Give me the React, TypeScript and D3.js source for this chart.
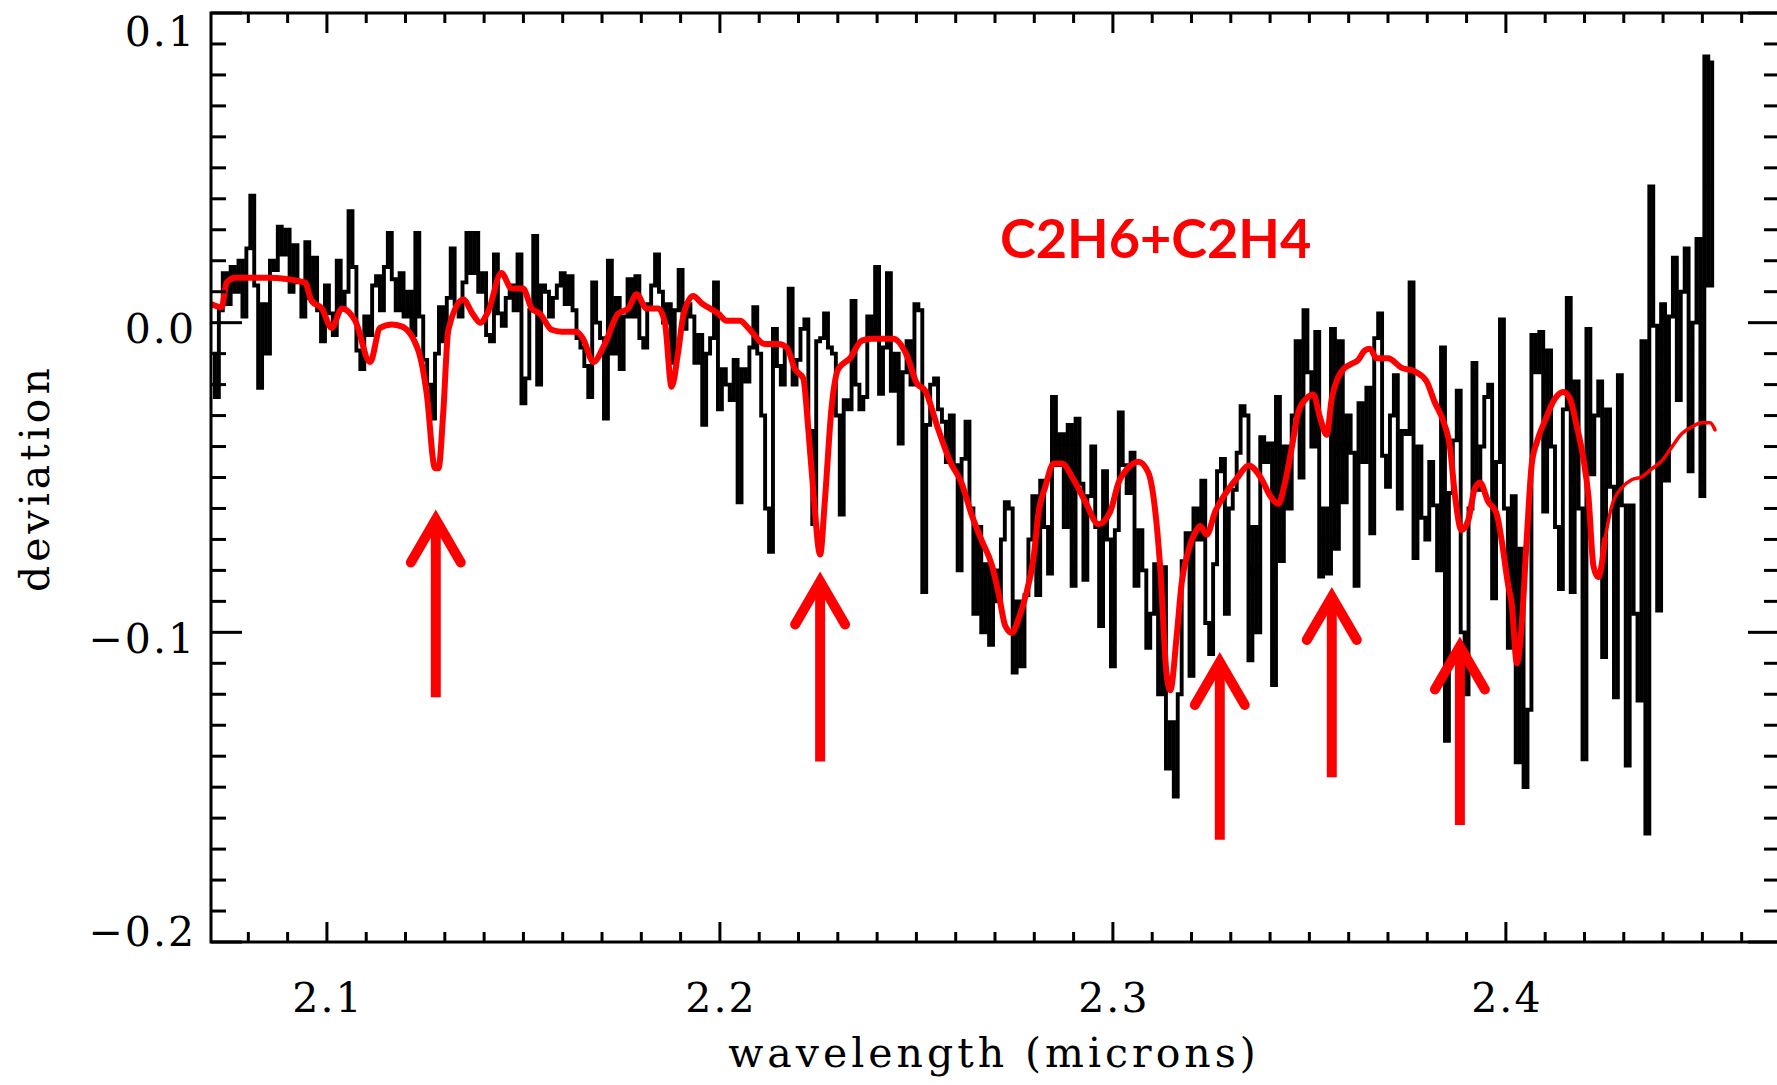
import React, { useEffect, useRef } from 'react';
import * as d3 from 'd3';

// observed spectrum, sampled every 0.001 micron starting at 2.071
const specStart = 2.071;
const specStep = 0.001;
const specDev = [
  -0.010, -0.024, 0.004, 0.016, 0.006, 0.018, 0.010, 0.020, 0.002, 0.024, // 2.071
  0.041, 0.012, -0.021, 0.006, -0.010, 0.020, 0.017, 0.031, 0.022, 0.030, // 2.081
  0.010, 0.025, 0.013, 0.002, 0.026, 0.008, 0.021, 0.004, -0.006, 0.012, // 2.091
  0.003, -0.004, 0.020, 0.005, 0.010, 0.036, 0.018, -0.009, -0.015, 0.002, // 2.101
  -0.004, 0.012, 0.015, 0.004, 0.018, 0.029, 0.014, 0.004, 0.016, 0.002, // 2.111
  0.010, -0.004, 0.029, 0.002, -0.012, -0.020, -0.031, -0.010, 0.005, -0.006, // 2.121
  0.008, 0.024, 0.006, 0.002, 0.013, 0.029, 0.016, 0.029, 0.010, 0.016, // 2.131
  -0.004, -0.006, 0.022, 0.003, -0.001, 0.008, 0.012, 0.004, 0.022, -0.026, // 2.141
  -0.018, 0.004, 0.028, -0.020, 0.012, 0.010, 0.002, 0.008, 0.012, 0.016, // 2.151
  0.006, 0.015, 0.004, -0.005, -0.008, -0.014, -0.024, 0.013, 0.000, -0.005, // 2.161
  -0.031, 0.020, -0.010, 0.008, -0.015, 0.002, 0.014, 0.002, 0.015, -0.005, // 2.171
  -0.008, 0.006, 0.012, 0.022, 0.010, 0.000, 0.006, -0.013, 0.004, 0.017, // 2.181
  -0.002, 0.006, 0.002, -0.013, -0.004, -0.033, -0.010, -0.005, 0.013, -0.028, // 2.191
  -0.015, -0.020, -0.025, -0.012, -0.058, -0.015, -0.019, -0.008, 0.005, -0.010, // 2.201
  -0.030, -0.060, -0.074, -0.002, -0.014, -0.020, -0.008, 0.011, -0.020, -0.012, // 2.211
  -0.002, 0.001, -0.035, -0.065, -0.006, -0.005, 0.003, -0.008, -0.010, -0.030, // 2.221
  -0.062, -0.025, -0.028, 0.007, -0.020, -0.028, -0.024, 0.002, -0.004, 0.018, // 2.231
  -0.023, -0.008, 0.016, -0.022, -0.010, -0.039, -0.016, -0.006, -0.020, 0.006, // 2.241
  0.004, -0.087, -0.033, -0.020, -0.018, -0.028, -0.032, -0.045, -0.030, -0.046, // 2.251
  -0.080, -0.044, -0.032, -0.060, -0.094, -0.066, -0.100, -0.078, -0.104, -0.080, // 2.261
  -0.090, -0.070, -0.058, -0.060, -0.113, -0.090, -0.111, -0.088, -0.070, -0.056, // 2.271
  -0.088, -0.051, -0.066, -0.081, -0.024, -0.046, -0.036, -0.066, -0.033, -0.085, // 2.281
  -0.031, -0.052, -0.083, -0.056, -0.040, -0.066, -0.098, -0.048, -0.070, -0.111, // 2.291
  -0.067, -0.029, -0.046, -0.055, -0.042, -0.085, -0.067, -0.080, -0.105, -0.094, // 2.301
  -0.078, -0.120, -0.079, -0.144, -0.129, -0.153, -0.120, -0.077, -0.068, -0.114, // 2.311
  -0.060, -0.070, -0.051, -0.097, -0.107, -0.078, -0.048, -0.044, -0.094, -0.060, // 2.321
  -0.054, -0.042, -0.027, -0.030, -0.109, -0.066, -0.100, -0.037, -0.045, -0.039, // 2.331
  -0.117, -0.024, -0.077, -0.040, -0.060, -0.030, -0.006, -0.050, 0.004, -0.016, // 2.341
  -0.040, -0.003, -0.082, -0.060, -0.081, -0.002, -0.073, -0.006, -0.058, -0.030, // 2.351
  -0.042, -0.085, -0.026, -0.045, -0.021, -0.068, -0.005, 0.003, -0.043, -0.053, // 2.361
  -0.030, -0.017, -0.060, -0.035, -0.036, 0.013, -0.076, -0.040, -0.063, -0.070, // 2.371
  -0.045, -0.059, -0.080, -0.008, -0.135, -0.055, -0.038, -0.022, -0.100, -0.120, // 2.381
  -0.060, -0.013, -0.054, -0.040, -0.024, -0.020, -0.089, -0.045, 0.001, -0.060, // 2.391
  -0.105, -0.056, -0.142, -0.073, -0.150, -0.125, -0.004, -0.016, -0.003, -0.061, // 2.401
  -0.009, -0.040, -0.066, -0.086, -0.028, 0.008, -0.087, -0.019, -0.060, -0.141, // 2.411
  -0.002, -0.049, -0.030, -0.019, -0.108, -0.028, -0.053, -0.121, -0.017, -0.059, // 2.421
  -0.143, -0.059, -0.094, -0.122, -0.006, -0.165, 0.044, -0.001, -0.093, 0.006, // 2.431
  -0.051, 0.002, 0.021, -0.025, 0.010, 0.024, -0.048, 0.000, 0.027, -0.056, // 2.441
  0.086, 0.012, 0.084, // 2.451
];

// C2H6+C2H4 model
const modelWave = [
  2.0705, 2.0732, 2.0745, 2.0766, 2.0850, 2.0944, 2.0961, 2.0987, 2.1012, 2.1038,
  2.1072, 2.1110, 2.1135, 2.1165, 2.1190, 2.1233, 2.1254, 2.1275, 2.1284, 2.1296,
  2.1309, 2.1347, 2.1370, 2.1390, 2.1410, 2.1444, 2.1470, 2.1499, 2.1521, 2.1542,
  2.1572, 2.1597, 2.1635, 2.1652, 2.1678, 2.1707, 2.1741, 2.1767, 2.1788, 2.1813,
  2.1843, 2.1860, 2.1877, 2.1894, 2.1907, 2.1932, 2.1953, 2.1996, 2.2017, 2.2051,
  2.2072, 2.2115, 2.2149, 2.2170, 2.2191, 2.2212, 2.2225, 2.2238, 2.2255, 2.2267,
  2.2284, 2.2301, 2.2331, 2.2361, 2.2386, 2.2441, 2.2475, 2.2501, 2.2522, 2.2556,
  2.2586, 2.2615, 2.2641, 2.2666, 2.2692, 2.2710, 2.2726, 2.2743, 2.2760, 2.2777,
  2.2798, 2.2811, 2.2828, 2.2849, 2.2870, 2.2900, 2.2929, 2.2963, 2.2993, 2.3014,
  2.3040, 2.3065, 2.3090, 2.3108, 2.3120, 2.3137, 2.3146, 2.3163, 2.3175, 2.3192,
  2.3214, 2.3222, 2.3239, 2.3260, 2.3286, 2.3320, 2.3345, 2.3378, 2.3400, 2.3421,
  2.3438, 2.3455, 2.3472, 2.3493, 2.3510, 2.3527, 2.3544, 2.3557, 2.3573, 2.3590,
  2.3607, 2.3624, 2.3641, 2.3654, 2.3671, 2.3700, 2.3735, 2.3769, 2.3798, 2.3819,
  2.3841, 2.3858, 2.3870, 2.3887, 2.3904, 2.3921, 2.3934, 2.3955, 2.3976, 2.3989,
  2.4006, 2.4015, 2.4028, 2.4040, 2.4053, 2.4066, 2.4079, 2.4100, 2.4125, 2.4146,
  2.4163, 2.4180, 2.4197, 2.4210, 2.4223, 2.4235, 2.4252, 2.4269, 2.4295, 2.4320,
  2.4346, 2.4371, 2.4397, 2.4422, 2.4448, 2.4473, 2.4498, 2.4520, 2.4532,
];
const modelDev = [
  0.0060, 0.0050, 0.0130, 0.0145, 0.0145, 0.0130, 0.0070, 0.0046, -0.0017, 0.0046,
  0.0006, -0.0127, -0.0017, -0.0006, -0.0012, -0.0092, -0.0230, -0.0470, -0.0470, -0.0290,
  -0.0023, 0.0075, 0.0030, 0.0000, 0.0035, 0.0160, 0.0110, 0.0110, 0.0046, 0.0029,
  -0.0023, -0.0029, -0.0029, -0.0052, -0.0127, -0.0069, 0.0029, 0.0046, 0.0092, 0.0046,
  0.0046, 0.0000, -0.0207, -0.0092, 0.0023, 0.0086, 0.0063, 0.0029, 0.0006, 0.0006,
  -0.0017, -0.0069, -0.0069, -0.0080, -0.0150, -0.0180, -0.0346, -0.0550, -0.0749, -0.0576,
  -0.0276, -0.0150, -0.0115, -0.0058, -0.0052, -0.0052, -0.0104, -0.0196, -0.0219, -0.0346,
  -0.0449, -0.0518, -0.0622, -0.0703, -0.0783, -0.0880, -0.0979, -0.1002, -0.0956, -0.0887,
  -0.0760, -0.0611, -0.0530, -0.0455, -0.0455, -0.0507, -0.0576, -0.0651, -0.0611, -0.0518,
  -0.0467, -0.0449, -0.0484, -0.0611, -0.0783, -0.1140, -0.1187, -0.1002, -0.0841, -0.0737,
  -0.0668, -0.0657, -0.0685, -0.0611, -0.0553, -0.0495, -0.0461, -0.0504, -0.0559, -0.0585,
  -0.0516, -0.0405, -0.0288, -0.0244, -0.0232, -0.0306, -0.0362, -0.0244, -0.0177, -0.0146,
  -0.0133, -0.0121, -0.0090, -0.0084, -0.0115, -0.0115, -0.0146, -0.0158, -0.0189, -0.0257,
  -0.0319, -0.0405, -0.0553, -0.0670, -0.0639, -0.0535, -0.0516, -0.0578, -0.0615, -0.0701,
  -0.0849, -0.0909, -0.1100, -0.0980, -0.0700, -0.0455, -0.0385, -0.0315, -0.0245, -0.0224,
  -0.0245, -0.0332, -0.0437, -0.0560, -0.0787, -0.0822, -0.0700, -0.0594, -0.0533, -0.0507,
  -0.0498, -0.0472, -0.0446, -0.0402, -0.0358, -0.0337, -0.0323, -0.0323, -0.0346,
];
// the model trace is drawn thinner past this wavelength
const modelThinFrom = 2.4252;

// red arrows marking features: wavelength, tip and tail (deviation units)
const arrowWave = [2.1277, 2.2255, 2.3272, 2.3557, 2.3883];
const arrowTip = [-0.060, -0.080, -0.106, -0.085, -0.101];
const arrowTail = [-0.121, -0.1417, -0.167, -0.1468, -0.1622];

const xMajorTicks = [2.1, 2.2, 2.3, 2.4];
const xTickLabels = ['2.1', '2.2', '2.3', '2.4'];
const yMajorTicks = [-0.2, -0.1, 0.0, 0.1];
const yTickLabels = ['\u22120.2', '\u22120.1', '0.0', '0.1'];

const xTitle = 'wavelength (microns)';
const yTitle = 'deviation';
const modelLabel = 'C2H6+C2H4';

const SpectrumChart = () => {
  const svgRef = useRef<SVGSVGElement | null>(null);

  useEffect(() => {
    const width = 1777;
    const height = 1085;
    const left = 211;
    const right = 1779;
    const top = 13;
    const bottom = 942;
    const red = '#ff0000';
    const axisFont = "'DejaVu Serif', serif";

    const x = d3.scaleLinear().domain([2.0705, 2.4695]).range([left, right]);
    const y = d3.scaleLinear().domain([-0.2, 0.1]).range([bottom, top]);

    const svg = d3.select(svgRef.current)
      .attr('width', width)
      .attr('height', height)
      .attr('viewBox', [0, 0, width, height].join(' '))
      .style('position', 'absolute')
      .style('left', '0px')
      .style('top', '0px')
      .style('background', '#fff');
    svg.selectAll('*').remove();

    svg.append('defs').append('clipPath').attr('id', 'plot-clip')
      .append('rect')
      .attr('x', left).attr('y', top)
      .attr('width', right - left).attr('height', bottom - top);

    const plot = svg.append('g').attr('clip-path', 'url(#plot-clip)');

    // observed spectrum, histogram style
    const specLine = d3.line<number>()
      .x((d, i) => x(specStart + i * specStep))
      .y(d => y(d))
      .curve(d3.curveStep);

    plot.append('path')
      .datum(specDev)
      .attr('fill', 'none')
      .attr('stroke', '#000')
      .attr('stroke-width', 3.9)
      .attr('d', specLine);

    // model
    const model = modelWave.map((w, i) => [w, modelDev[i]] as [number, number]);
    const modelLine = d3.line<[number, number]>()
      .x(d => x(d[0]))
      .y(d => y(d[1]))
      .curve(d3.curveMonotoneX);

    plot.append('path')
      .datum(model.filter(d => d[0] <= modelThinFrom))
      .attr('fill', 'none')
      .attr('stroke', red)
      .attr('stroke-width', 6)
      .attr('stroke-linejoin', 'round')
      .attr('stroke-linecap', 'round')
      .attr('d', modelLine);

    plot.append('path')
      .datum(model.filter(d => d[0] >= modelThinFrom))
      .attr('fill', 'none')
      .attr('stroke', red)
      .attr('stroke-width', 3.5)
      .attr('stroke-linejoin', 'round')
      .attr('stroke-linecap', 'round')
      .attr('d', modelLine);

    // frame
    svg.append('rect')
      .attr('x', left).attr('y', top)
      .attr('width', right - left).attr('height', bottom - top)
      .attr('fill', 'none')
      .attr('stroke', '#000')
      .attr('stroke-width', 3);

    const isMajor = (v: number, majors: number[]) => majors.some(m => Math.abs(m - v) < 1e-6);

    // x ticks, top and bottom, pointing in
    const xt = svg.append('g').attr('stroke', '#000').attr('stroke-width', 3);
    x.ticks(40).forEach(v => {
      const len = isMajor(v, xMajorTicks) ? 20 : 10;
      xt.append('line').attr('x1', x(v)).attr('x2', x(v)).attr('y1', bottom).attr('y2', bottom - len);
      xt.append('line').attr('x1', x(v)).attr('x2', x(v)).attr('y1', top).attr('y2', top + len);
    });

    // y ticks, left and right
    const yt = svg.append('g').attr('stroke', '#000').attr('stroke-width', 3);
    y.ticks(30).forEach(v => {
      const len = isMajor(v, yMajorTicks) ? 31 : 15;
      yt.append('line').attr('y1', y(v)).attr('y2', y(v)).attr('x1', left).attr('x2', left + len);
      yt.append('line').attr('y1', y(v)).attr('y2', y(v)).attr('x1', right).attr('x2', right - len);
    });

    // tick labels
    svg.append('g')
      .attr('font-family', axisFont)
      .attr('font-size', 41)
      .attr('letter-spacing', 2)
      .attr('text-anchor', 'end')
      .selectAll('text')
      .data(yMajorTicks)
      .join('text')
      .attr('x', 196)
      .attr('y', v => Math.min(Math.max(y(v) + 6, top + 18), bottom - 11))
      .attr('dy', '0.36em')
      .text((v, i) => yTickLabels[i]);

    svg.append('g')
      .attr('font-family', axisFont)
      .attr('font-size', 41)
      .attr('letter-spacing', 2)
      .attr('text-anchor', 'middle')
      .selectAll('text')
      .data(xMajorTicks)
      .join('text')
      .attr('x', v => x(v) + 1)
      .attr('y', 1012)
      .text((v, i) => xTickLabels[i]);

    // axis titles
    svg.append('text')
      .attr('x', (left + right) / 2 - 1)
      .attr('y', 1067)
      .attr('text-anchor', 'middle')
      .attr('font-family', axisFont)
      .attr('font-size', 41)
      .attr('letter-spacing', 4)
      .text(xTitle);

    svg.append('text')
      .attr('transform', 'translate(49,478) rotate(-90)')
      .attr('text-anchor', 'middle')
      .attr('font-family', axisFont)
      .attr('font-size', 41)
      .attr('letter-spacing', 4)
      .text(yTitle);

    // model label
    svg.append('text')
      .attr('x', 1000)
      .attr('y', 258)
      .attr('font-family', "Lato, 'Open Sans', sans-serif")
      .attr('font-weight', 700)
      .attr('font-size', 54)
      .attr('fill', red)
      .text(modelLabel);

    // arrows
    const arrows = svg.append('g')
      .attr('stroke', red)
      .attr('fill', 'none')
      .attr('stroke-width', 10);
    arrowWave.forEach((w, i) => {
      const ax = x(w);
      const tipY = y(arrowTip[i]) + 11;
      arrows.append('line')
        .attr('x1', ax).attr('x2', ax)
        .attr('y1', tipY).attr('y2', y(arrowTail[i]))
        .attr('stroke-linecap', 'butt');
      arrows.append('path')
        .attr('d', `M${ax - 25},${tipY + 43}L${ax},${tipY}L${ax + 25},${tipY + 43}`)
        .attr('stroke-linejoin', 'miter')
        .attr('stroke-linecap', 'round');
    });
  }, []);

  return <svg ref={svgRef}></svg>;
};

export default function App() {
  return <SpectrumChart />;
}
